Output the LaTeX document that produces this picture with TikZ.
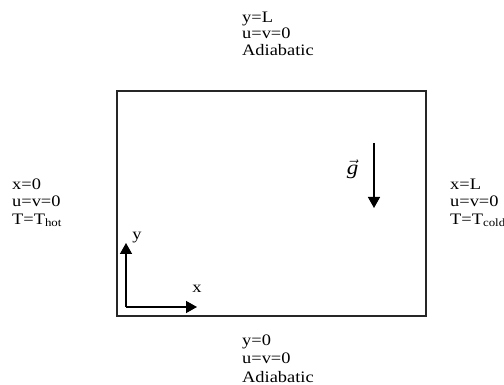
\documentclass[tikz,border=0pt]{standalone}
\usepackage{fontspec}
\setmainfont{Liberation Serif}[FakeStretch=1.15]
\usetikzlibrary{arrows.meta}

\begin{document}
\begin{tikzpicture}[
  x=1pt, y=-1pt,
  >={Triangle[width=12pt,length=11pt]},
  wall/.style={draw=black!85, line width=1.6pt, minimum width=309pt,
    minimum height=225pt, inner sep=0pt},
  bc/.style={font=\fontsize{16}{17.5}\selectfont, align=left,
    anchor=north west, inner sep=0pt},
  axis/.style={->, line width=1.4pt},
  lbl/.style={font=\fontsize{16}{17.5}\selectfont, inner sep=0pt, anchor=base}
]
\useasboundingbox (0,0) rectangle (504,385);

% Cavity
\node[wall] (cavity) at (271.5,203.5) {};

% Boundary conditions
\node[bc, font=\fontsize{16}{16.5}\selectfont] (top) at (242,11.4) {y=L\\u=v=0\\Adiabatic};
\node[bc, font=\fontsize{16}{18.5}\selectfont] (bottom) at (242,334.2) {y=0\\u=v=0\\Adiabatic};
\node[bc] (left) at (12,178.2) {x=0\\u=v=0\\T=T\textsubscript{hot}};
\node[bc] (right) at (450,178.4) {x=L\\u=v=0\\T=T\textsubscript{cold}};

% Axes
\coordinate (origin) at (126,307);
\coordinate (xend) at (197,307);
\coordinate (yend) at (126,243);
\draw[axis] (origin) -- (xend);
\draw[axis] (origin) -- (yend);
\node[lbl] (xlab) at (197,293) {x};
\node[lbl] (ylab) at (137,239.5) {y};

% Gravity
\coordinate (gtop) at (374,143);
\coordinate (gtip) at (374,208);
\draw[axis] (gtop) -- (gtip);
\node[lbl, font=\fontsize{20}{21}\selectfont] (glab) at (352.5,175) {$\vec{\textit{g}}$};
\end{tikzpicture}
\end{document}
